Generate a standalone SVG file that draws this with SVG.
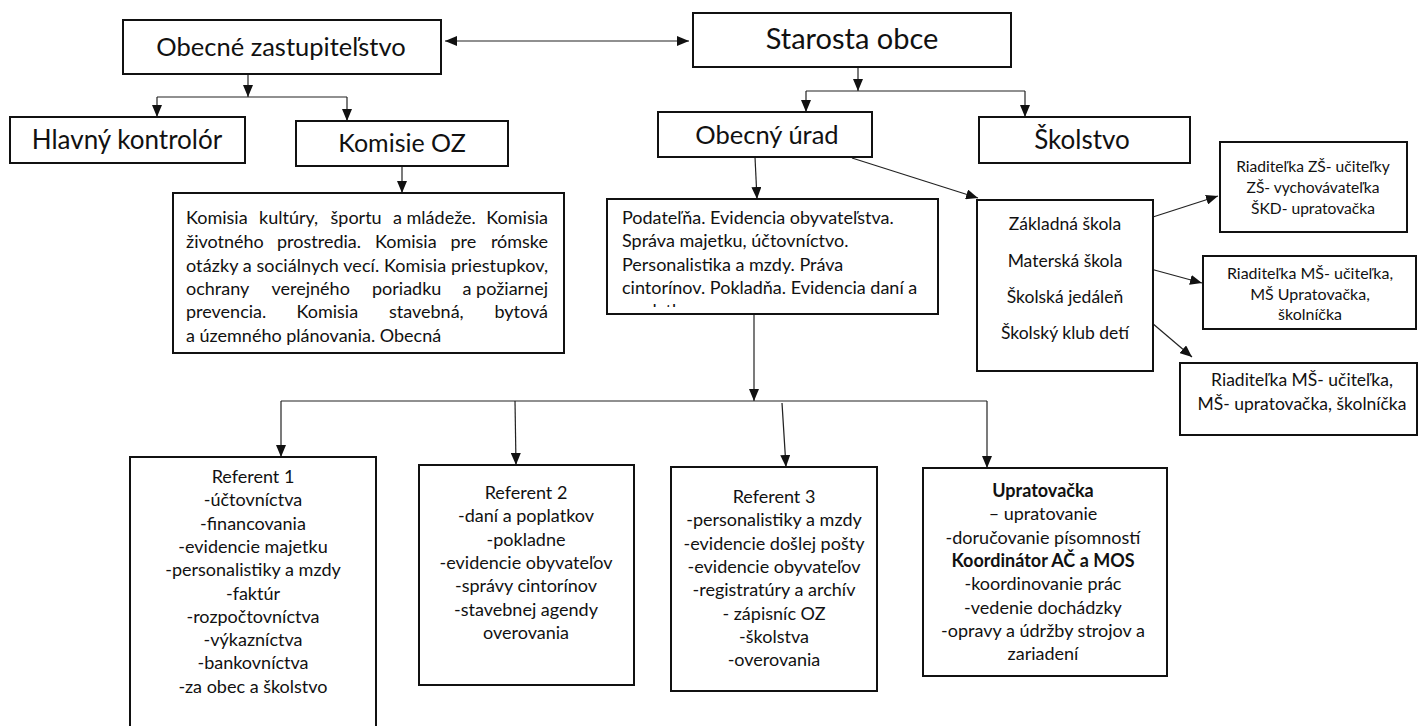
<svg xmlns="http://www.w3.org/2000/svg" width="1418" height="726" viewBox="0 0 1418 726">
<style>
text{font-family:Lato,"Liberation Sans",sans-serif;fill:#111}
.box{fill:#fff;stroke:#111;stroke-width:2}
.big{font-size:25.5px;text-anchor:middle}
.t16{font-size:18px}
.c{text-anchor:middle}
.e{text-anchor:end}
.b{font-weight:bold}
.ln{fill:none;stroke:#222;stroke-width:1.2}
</style>
<defs>
<marker id="ah" markerUnits="userSpaceOnUse" markerWidth="12" markerHeight="10" viewBox="0 0 12 10" refX="12" refY="5" orient="auto-start-reverse">
<path d="M0,0 L12,5 L0,10 Z" fill="#111"/>
</marker>
<clipPath id="podclip"><rect x="608" y="200" width="328" height="107"/></clipPath>
</defs>
<g id="connectors">
<line class="ln" x1="445" y1="41" x2="689" y2="41" marker-start="url(#ah)" marker-end="url(#ah)"/>
<line class="ln" x1="248" y1="74" x2="248" y2="97" marker-end="url(#ah)"/>
<line class="ln" x1="157" y1="97" x2="347" y2="97"/>
<line class="ln" x1="157" y1="97" x2="157" y2="117" marker-end="url(#ah)"/>
<line class="ln" x1="347" y1="97" x2="347" y2="121" marker-end="url(#ah)"/>
<line class="ln" x1="402" y1="166" x2="402" y2="193" marker-end="url(#ah)"/>
<line class="ln" x1="858" y1="67" x2="858" y2="91" marker-end="url(#ah)"/>
<line class="ln" x1="806" y1="91" x2="1025" y2="91"/>
<line class="ln" x1="806" y1="91" x2="806" y2="112" marker-end="url(#ah)"/>
<line class="ln" x1="1025" y1="91" x2="1025" y2="117" marker-end="url(#ah)"/>
<line class="ln" x1="755" y1="157" x2="757" y2="199" marker-end="url(#ah)"/>
<line class="ln" x1="852" y1="158" x2="978" y2="198" marker-end="url(#ah)"/>
<line class="ln" x1="754" y1="314" x2="754" y2="401" marker-end="url(#ah)"/>
<line class="ln" x1="281" y1="401" x2="987" y2="401"/>
<line class="ln" x1="281" y1="401" x2="281" y2="457" marker-end="url(#ah)"/>
<line class="ln" x1="515" y1="401" x2="516" y2="465" marker-end="url(#ah)"/>
<line class="ln" x1="782" y1="403" x2="786" y2="467" marker-end="url(#ah)"/>
<line class="ln" x1="987" y1="401" x2="987" y2="468" marker-end="url(#ah)"/>
<line class="ln" x1="1125" y1="226" x2="1218" y2="196" marker-end="url(#ah)"/>
<line class="ln" x1="1125" y1="262" x2="1202" y2="283" marker-end="url(#ah)"/>
<line class="ln" x1="1125" y1="300" x2="1192" y2="357" marker-end="url(#ah)"/>
</g>
<g id="oz">
<rect class="box" x="123" y="20" width="318" height="54"/>
<text class="big" x="281" y="56">Obecné zastupiteľstvo</text>
</g>
<g id="starosta">
<rect class="box" x="693" y="13" width="318" height="54"/>
<text class="big" x="852" y="49" style="font-size:29px">Starosta obce</text>
</g>
<g id="kontrolor">
<rect class="box" x="10" y="117" width="235" height="46"/>
<text class="big" x="127" y="149" style="font-size:26px">Hlavný kontrolór</text>
</g>
<g id="komisie">
<rect class="box" x="296" y="121" width="212" height="45"/>
<text class="big" x="402" y="152" style="font-size:25px">Komisie OZ</text>
</g>
<g id="urad">
<rect class="box" x="658" y="112" width="214" height="45"/>
<text class="big" x="767" y="144">Obecný úrad</text>
</g>
<g id="skolstvo">
<rect class="box" x="979" y="117" width="211" height="46"/>
<text class="big" x="1082" y="149" style="font-size:26px">Školstvo</text>
</g>
<g id="komisia-list">
<rect class="box" x="173" y="193" width="391" height="160"/>
<g class="t16">
<text x="186" y="224">Komisia</text><text x="259" y="224">kultúry,</text><text x="330.5" y="224">športu</text><text x="393" y="224">a mládeže.</text><text class="e" x="548" y="224">Komisia</text>
<text x="186" y="248">životného</text><text x="277" y="248">prostredia.</text><text x="375" y="248">Komisia</text><text x="450.5" y="248">pre</text><text class="e" x="548" y="248">rómske</text>
<text x="186" y="272" textLength="362" lengthAdjust="spacing">otázky a sociálnych vecí. Komisia priestupkov,</text>
<text x="186" y="295">ochrany</text><text x="271.5" y="295">verejného</text><text x="372" y="295">poriadku</text><text class="e" x="548" y="295">a požiarnej</text>
<text x="186" y="318">prevencia.</text><text x="296.5" y="318">Komisia</text><text x="389" y="318">stavebná,</text><text class="e" x="548" y="318">bytová</text>
<text x="186" y="342">a územného plánovania. Obecná</text>
</g>
</g>
<g id="podatelna">
<rect class="box" x="607" y="199" width="331" height="115"/>
<g class="t16" clip-path="url(#podclip)">
<text x="622" y="223.5">Podateľňa. Evidencia obyvateľstva.</text>
<text x="622" y="247">Správa majetku, účtovníctvo.</text>
<text x="622" y="270.5">Personalistika a mzdy. Práva</text>
<text x="622" y="293.5">cintorínov. Pokladňa. Evidencia daní a</text>
<text x="622" y="316.5">poplatkov</text>
</g>
</g>
<g id="skoly">
<rect class="box" x="977" y="200" width="176" height="171"/>
<g style="font-size:17.5px">
<text class="c" x="1065" y="230">Základná škola</text>
<text class="c" x="1065" y="267">Materská škola</text>
<text class="c" x="1065" y="303">Školská jedáleň</text>
<text class="c" x="1065" y="339">Školský klub detí</text>
</g>
</g>
<g id="zs">
<rect class="box" x="1220" y="142" width="187" height="90"/>
<g style="font-size:15.6px">
<text class="c" x="1313" y="171.5">Riaditeľka ZŠ- učiteľky</text>
<text class="c" x="1313" y="192.5">ZŠ- vychovávateľka</text>
<text class="c" x="1313" y="213.5">ŠKD- upratovačka</text>
</g>
</g>
<g id="ms">
<rect class="box" x="1203" y="256" width="213" height="73"/>
<g style="font-size:16px">
<text class="c" x="1310" y="278.5">Riaditeľka MŠ- učiteľka,</text>
<text class="c" x="1310" y="299.5">MŠ Upratovačka,</text>
<text class="c" x="1310" y="320">školníčka</text>
</g>
</g>
<g id="jedalen">
<rect class="box" x="1180" y="363" width="237" height="72"/>
<g style="font-size:17.5px">
<text class="c" x="1302" y="386">Riaditeľka MŠ- učiteľka,</text>
<text class="c" x="1302" y="410">MŠ- upratovačka, školníčka</text>
</g>
</g>
<g id="ref1">
<path class="box" d="M130,727 V457 H376 V727"/>
<g class="t16">
<text class="c" x="253" y="483">Referent 1</text>
<text class="c" x="253" y="506.3">-účtovníctva</text>
<text class="c" x="253" y="529.6">-financovania</text>
<text class="c" x="253" y="552.9">-evidencie majetku</text>
<text class="c" x="253" y="576.2">-personalistiky a mzdy</text>
<text class="c" x="253" y="599.5">-faktúr</text>
<text class="c" x="253" y="622.8">-rozpočtovníctva</text>
<text class="c" x="253" y="646.1">-výkazníctva</text>
<text class="c" x="253" y="669.4">-bankovníctva</text>
<text class="c" x="253" y="692.7">-za obec a školstvo</text>
</g>
</g>
<g id="ref2">
<rect class="box" x="419" y="465" width="215" height="220"/>
<g class="t16">
<text class="c" x="526" y="499">Referent 2</text>
<text class="c" x="526" y="522.3">-daní a poplatkov</text>
<text class="c" x="526" y="545.6">-pokladne</text>
<text class="c" x="526" y="568.9">-evidencie obyvateľov</text>
<text class="c" x="526" y="592.2">-správy cintorínov</text>
<text class="c" x="526" y="615.5">-stavebnej agendy</text>
<text class="c" x="526" y="638.8">overovania</text>
</g>
</g>
<g id="ref3">
<rect class="box" x="671" y="467" width="206" height="224"/>
<g class="t16">
<text class="c" x="774" y="503">Referent 3</text>
<text class="c" x="774" y="526.3">-personalistiky a mzdy</text>
<text class="c" x="774" y="549.6">-evidencie došlej pošty</text>
<text class="c" x="774" y="572.9">-evidencie obyvateľov</text>
<text class="c" x="774" y="596.2">-registratúry a archív</text>
<text class="c" x="774" y="619.5">- zápisníc OZ</text>
<text class="c" x="774" y="642.8">-školstva</text>
<text class="c" x="774" y="666.1">-overovania</text>
</g>
</g>
<g id="upratovacka">
<rect class="box" x="923" y="468" width="244" height="208"/>
<g class="t16">
<text class="c b" x="1043" y="497">Upratovačka</text>
<text class="c" x="1043" y="520.3">– upratovanie</text>
<text class="c" x="1043" y="543.6">-doručovanie písomností</text>
<text class="c b" x="1043" y="566.9">Koordinátor AČ a MOS</text>
<text class="c" x="1043" y="590.2">-koordinovanie prác</text>
<text class="c" x="1043" y="613.5">-vedenie dochádzky</text>
<text class="c" x="1043" y="636.8">-opravy a údržby strojov a</text>
<text class="c" x="1043" y="660.1">zariadení</text>
</g>
</g>
</svg>
